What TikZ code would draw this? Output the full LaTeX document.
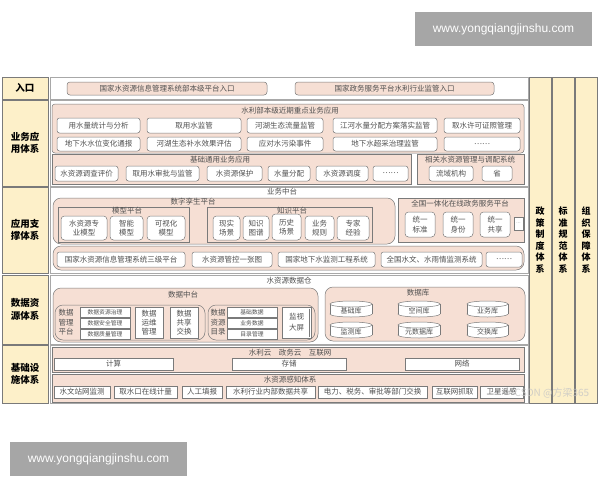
\documentclass[tikz,border=0pt]{standalone}
\usepackage{fontspec}
\setmainfont{Noto Sans CJK SC}
\newfontfamily\wmfont{Liberation Sans}
\definecolor{labY}{HTML}{FDF0C9}
\definecolor{pinkF}{HTML}{F6DFD4}
\definecolor{brd}{HTML}{7A7A7A}
\definecolor{panelB}{HTML}{A8A8A8}
\definecolor{txt}{HTML}{505050}
\definecolor{wmG}{HTML}{A6A6A6}
\tikzset{
  base/.style={inner sep=0pt,outer sep=0pt,line width=0.5pt,align=center},
  lab/.style={base,draw=brd,fill=labY,text=black,font=\fontsize{9.5}{12.5}\selectfont\bfseries},
  labv/.style={base,draw=brd,fill=labY,text=black,font=\fontsize{9}{11.5}\selectfont\bfseries},
  panel/.style={base,draw=panelB,fill=white},
  pk/.style={base,draw=brd,fill=pinkF,rounded corners=3pt},
  pkbig/.style={base,draw=brd,fill=pinkF,rounded corners=8pt},
  pksq/.style={base,draw=brd,fill=pinkF},
  wb/.style={base,draw=brd,fill=white,rounded corners=2.5pt,text=txt,font=\fontsize{7.5}{9}\selectfont},
  wb2/.style={base,draw=brd,fill=white,rounded corners=3.5pt,text=txt,font=\fontsize{7.5}{9.5}\selectfont},
  sq/.style={base,draw=brd,fill=white,text=txt,font=\fontsize{7.5}{9}\selectfont},
  sqs/.style={base,draw=brd,fill=white,text=txt,font=\fontsize{5.8}{7}\selectfont},
  en/.style={base,draw=brd,fill=pinkF,rounded corners=3pt,text=txt,font=\fontsize{7.5}{9}\selectfont},
  tt/.style={base,text=txt,font=\fontsize{7.5}{9}\selectfont},
  ttv/.style={base,text=txt,font=\fontsize{7.5}{9.5}\selectfont},
  cyltxt/.style={base,text=txt,font=\fontsize{7}{8}\selectfont},
  wm/.style={base,fill=wmG,text=white,font=\wmfont\fontsize{12}{14}\selectfont},
}
\newcommand\bx[7][wb]{\node[#1,anchor=north west,minimum width={(#5-#3)*1pt},minimum height={(#6-#4)*1pt}] (#2) at (#3,#4) {#7};}
\newcommand\cyl[6]{%
  \draw[brd,fill=white,line width=0.5pt] ({(#2+#4)/2},{#5-3}) ellipse ({(#4-#2)/2} and 3);
  \fill[white] (#2,{#3+3}) rectangle (#4,{#5-3});
  \draw[brd,line width=0.5pt] (#2,{#3+3}) -- (#2,{#5-3}) (#4,{#3+3}) -- (#4,{#5-3});
  \draw[brd,fill=white,line width=0.5pt] ({(#2+#4)/2},{#3+3}) ellipse ({(#4-#2)/2} and 3);
  \node[cyltxt] (#1) at ({(#2+#4)/2},{(#3+#5)/2+1.5}) {#6};}
\begin{document}
\begin{tikzpicture}[x=1pt,y=-1pt]
\useasboundingbox (0,0) rectangle (600,480);
\fill[white] (0,0) rectangle (600,480);
% watermarks
\bx[wm]{wmtop}{415}{12}{592}{46}{www.yongqiangjinshu.com}
\bx[wm]{wmbot}{10}{442}{187}{476}{www.yongqiangjinshu.com}
% left labels
\bx[lab]{L1}{2}{77}{48}{99}{入口}
\bx[lab]{L2}{2}{100}{48}{186}{业务应\\用体系}
\bx[lab]{L3}{2}{187}{48}{273}{应用支\\撑体系}
\bx[lab]{L4}{2}{275}{48}{344}{数据资\\源体系}
\bx[lab]{L5}{2}{345}{48}{403}{基础设\\施体系}
% right columns
\bx[labv]{R1}{529}{77}{551}{403}{政\\策\\制\\度\\体\\系}
\bx[labv]{R2}{552}{77}{574}{403}{标\\准\\规\\范\\体\\系}
\bx[labv]{R3}{575}{77}{597}{403}{组\\织\\保\\障\\体\\系}
% panels
\bx[panel]{P1}{50}{77}{528}{99}{}
\bx[panel]{P2}{50}{100}{528}{186}{}
\bx[panel]{P3}{50}{187}{528}{273}{}
\bx[panel]{P4}{50}{275}{528}{344}{}
\bx[panel]{P5}{50}{345}{528}{403}{}
% entry
\bx[en]{e1}{67}{82}{267}{95}{国家水资源信息管理系统部本级平台入口}
\bx[en]{e2}{295}{82}{494}{95}{国家政务服务平台水利行业监管入口}
% business applications
\bx[pk]{bA}{52}{104}{524}{153}{}
\node[tt] (bAt) at (290,111) {水利部本级近期重点业务应用};
\bx{b11}{57}{118}{140}{133}{用水量统计与分析}
\bx{b12}{147}{118}{241}{133}{取用水监管}
\bx{b13}{247}{118}{323}{133}{河湖生态流量监管}
\bx{b14}{333}{118}{437}{133}{江河水量分配方案落实监管}
\bx{b15}{444}{118}{520}{133}{取水许可证照管理}
\bx{b21}{57}{137}{140}{151}{地下水水位变化通报}
\bx{b22}{147}{137}{241}{151}{河湖生态补水效果评估}
\bx{b23}{247}{137}{323}{151}{应对水污染事件}
\bx{b24}{333}{137}{437}{151}{地下水超采治理监管}
\bx{b25}{444}{137}{520}{151}{……}
\bx[pksq]{bB}{52}{154}{411}{184}{}
\node[tt] (bBt) at (220,160) {基础通用业务应用};
\bx{c1}{55}{166}{118}{181}{水资源调查评价}
\bx{c2}{126}{166}{199}{181}{取用水审批与监管}
\bx{c3}{207}{166}{262}{181}{水资源保护}
\bx{c4}{268}{166}{310}{181}{水量分配}
\bx{c5}{316}{166}{368}{181}{水资源调度}
\bx{c6}{373}{166}{408}{181}{……}
\bx[pksq]{bC}{417}{154}{524}{184}{}
\node[tt] (bCt) at (470,160) {相关水资源管理与调配系统};
\bx{d1}{429}{166}{473}{181}{流域机构}
\bx{d2}{482}{166}{512}{181}{省}
% application support
\node[tt] (sT) at (282,192) {业务中台};
\bx[pkbig]{sA}{53}{198}{395}{244}{}
\node[tt] (sAt) at (193,202) {数字孪生平台};
\bx[pksq]{sM}{58}{207}{189}{242}{}
\node[tt] (sMt) at (127,211) {模型平台};
\bx[wb2]{m1}{61}{216}{107}{240}{水资源专\\业模型}
\bx[wb2]{m2}{110}{216}{143}{240}{智能\\模型}
\bx[wb2]{m3}{147}{216}{185}{240}{可视化\\模型}
\bx[pksq]{sK}{207}{207}{372}{242}{}
\node[tt] (sKt) at (292,211) {知识平台};
\bx[wb2]{k1}{213}{216}{240}{240}{现实\\场景}
\bx[wb2]{k2}{243}{216}{269}{240}{知识\\图谱}
\bx[wb2]{k3}{272}{214}{301}{240}{历史\\场景}
\bx[wb2]{k4}{305}{216}{334}{240}{业务\\规则}
\bx[wb2]{k5}{337}{216}{369}{240}{专家\\经验}
\bx[pksq]{sG}{398}{198}{524}{242}{}
\node[tt] (sGt) at (460,204) {全国一体化在线政务服务平台};
\bx[wb2]{g1}{405}{212}{435}{237}{统一\\标准}
\bx[wb2]{g2}{443}{212}{473}{237}{统一\\身份}
\bx[wb2]{g3}{480}{212}{510}{237}{统一\\共享}
\bx[sq]{g4}{514}{217}{523}{230}{\fontsize{4}{4}\selectfont …}
\bx[pkbig]{sB}{53}{246}{524}{270}{}
\bx{h1}{57}{252}{185}{267}{国家水资源信息管理系统三级平台}
\bx{h2}{192}{252}{272}{267}{水资源管控一张图}
\bx{h3}{278}{252}{375}{267}{国家地下水监测工程系统}
\bx{h4}{381}{252}{482}{267}{全国水文、水雨情监测系统}
\bx{h5}{486}{252}{522}{267}{……}
% data resources
\node[tt] (tT) at (289,281) {水资源数据仓};
\bx[pkbig]{tA}{53}{288}{318}{342}{}
\node[tt] (tAt) at (183,295) {数据中台};
\bx[pkbig]{tM}{55}{305}{205}{340}{}
\node[ttv] (tMt) at (66,322.5) {数据\\管理\\平台};
\bx[sqs]{q1}{80}{307}{130}{317}{数据资源治理}
\bx[sqs]{q2}{80}{318}{130}{328}{数据安全管理}
\bx[sqs]{q3}{80}{329}{130}{339}{数据质量管理}
\bx[sq]{q4}{135}{307}{163}{338}{数据\\运维\\管理}
\bx[sq]{q5}{170}{307}{198}{338}{数据\\共享\\交换}
\bx[pkbig]{tR}{208}{305}{315}{340}{}
\node[ttv] (tRt) at (218,322.5) {数据\\资源\\目录};
\bx[sqs]{r1}{227}{307}{277}{317}{基础数据}
\bx[sqs]{r2}{227}{318}{277}{328}{业务数据}
\bx[sqs]{r3}{227}{329}{277}{339}{目录管理}
\bx[sq]{r4}{282}{307}{311}{338}{监视\\[2pt]大屏}
\draw[brd,line width=0.5pt] (r4.north east) ++(-1.5,1.5) -- ++(0,28);
\bx[pkbig]{tD}{325}{287}{525}{341}{}
\node[tt] (tDt) at (418,293) {数据库};
\cyl{y1}{330}{301}{372}{317}{基础库}
\cyl{y2}{398}{301}{440}{317}{空间库}
\cyl{y3}{467}{301}{508}{317}{业务库}
\cyl{y4}{330}{322}{372}{338}{监测库}
\cyl{y5}{398}{322}{440}{338}{元数据库}
\cyl{y6}{467}{322}{508}{338}{交换库}
% infrastructure
\bx[pksq]{iA}{52}{347}{524}{372}{}
\node[tt] (iAt) at (290,353) {水利云\quad 政务云\quad 互联网};
\bx[sq]{i1}{54}{358}{173}{370}{计算}
\bx[sq]{i2}{232}{358}{346}{370}{存储}
\bx[sq]{i3}{405}{358}{519}{370}{网络}
\bx[pksq]{iB}{52}{374}{524}{402}{}
\node[tt] (iBt) at (290,380) {水资源感知体系};
\bx[sq]{j1}{54}{386}{110}{398}{水文站网监测}
\bx[sq]{j2}{114}{386}{177}{398}{取水口在线计量}
\bx[sq]{j3}{182}{386}{222}{398}{人工填报}
\bx[sq]{j4}{226}{386}{315}{398}{水利行业内部数据共享}
\bx[sq]{j5}{318}{386}{427}{398}{电力、税务、审批等部门交换}
\bx[sq]{j6}{432}{386}{477}{398}{互联网抓取}
\bx[sq]{j7}{480}{386}{523}{398}{卫星遥感}
\node[base,text=gray!45,opacity=0.8,font=\fontsize{10}{12}\selectfont] (csdn) at (552,393) {CSDN @方梁365};
\end{tikzpicture}
\end{document}
